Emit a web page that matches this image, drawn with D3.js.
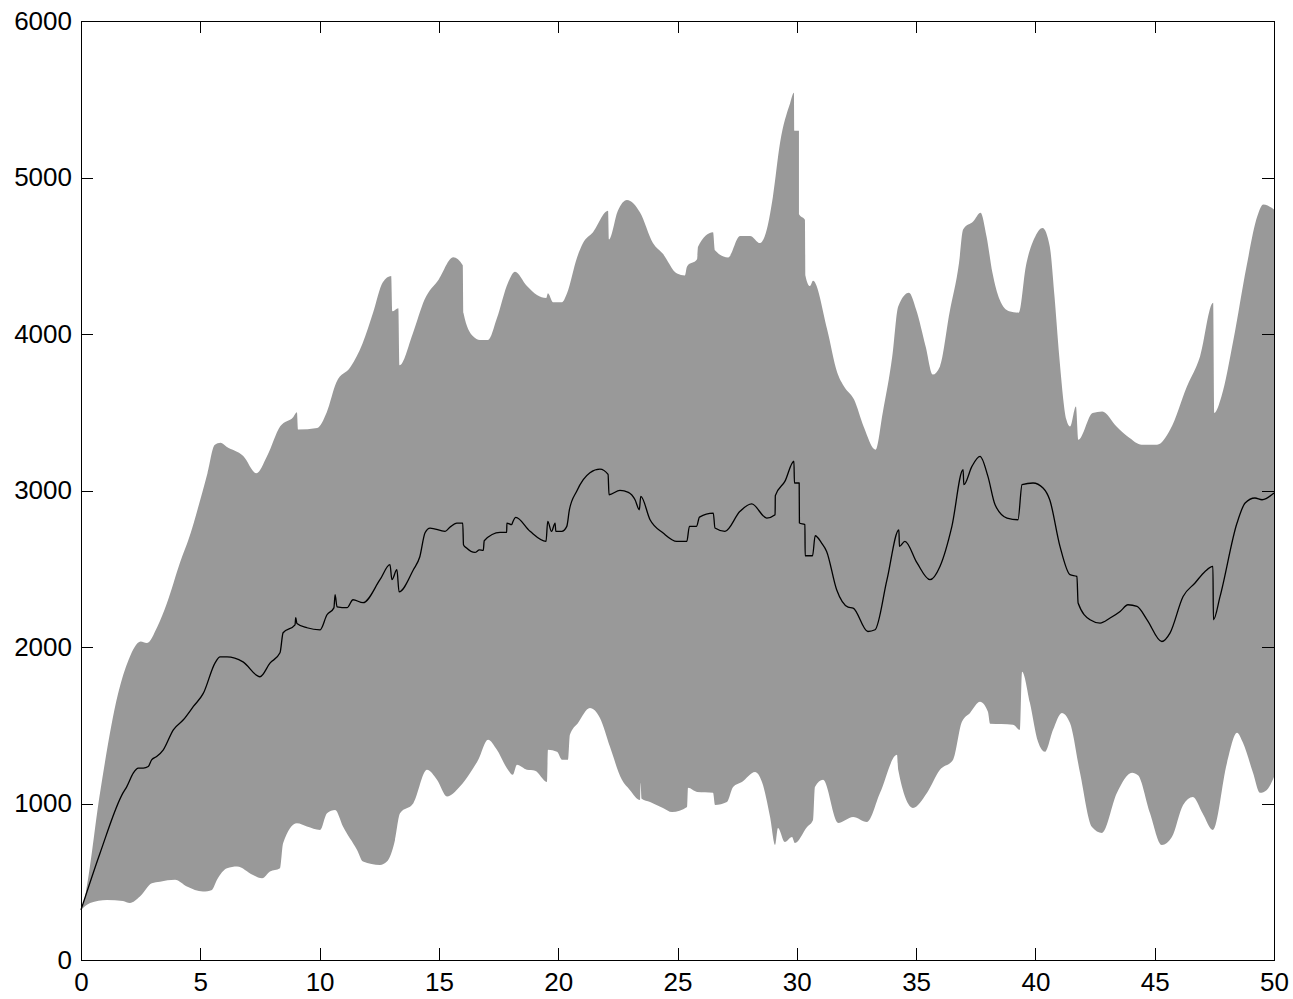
<!DOCTYPE html>
<html>
<head>
<meta charset="utf-8">
<script src="https://cdn.jsdelivr.net/npm/d3@7"></script>
<style>
  html, body { margin: 0; padding: 0; background: #fff; }
  svg { display: block; }
  .axis text { font-family: "Liberation Sans", Arial, Helvetica, sans-serif; font-size: 26px; fill: #000; }
  .axis path, .axis line { stroke: #000; stroke-width: 1px; shape-rendering: crispEdges; }
</style>
</head>
<body>
<svg id="chart" width="1293" height="999"></svg>
<script>
// ---- data (x, value) ----
const xTicks = [0, 5, 10, 15, 20, 25, 30, 35, 40, 45, 50];
const yTicks = [0, 1000, 2000, 3000, 4000, 5000, 6000];

const bandUpper = [[0,300],[0.2,430],[0.8,1070],[1.55,1700],[2.0,1920],[2.25,2000],[2.5,2035],[2.75,2025],[3.2,2130],[3.6,2280],[4.15,2540],[4.6,2730],[4.85,2860],[5.3,3110],[5.6,3290],[5.85,3305],[6.1,3280],[6.8,3220],[7.35,3110],[7.8,3220],[8.35,3410],[8.9,3470],[9.05,3500],[9.1,3390],[9.9,3400],[10.3,3500],[10.7,3690],[11.3,3790],[11.8,3940],[12.25,4140],[12.65,4330],[13.0,4370],[13.05,4145],[13.3,4165],[13.35,3800],[13.9,4000],[14.4,4220],[15.0,4350],[15.6,4490],[16.0,4440],[16.03,4134],[16.43,3985],[16.72,3962],[17.06,3962],[17.43,4100],[17.9,4329],[18.19,4398],[18.69,4306],[19.11,4249],[19.5,4230],[19.57,4260],[19.78,4203],[20.16,4203],[20.37,4260],[20.79,4489],[21.04,4581],[21.46,4650],[22.09,4787],[22.13,4604],[22.5,4787],[22.88,4856],[23.43,4776],[23.97,4581],[24.39,4512],[24.98,4386],[25.31,4374],[25.4,4432],[25.82,4477],[25.86,4558],[26.49,4650],[26.57,4535],[27.12,4489],[27.62,4627],[28.04,4627],[28.46,4581],[28.75,4673],[29.0,4879],[29.3,5223],[29.72,5475],[29.88,5541],[29.9,5299],[30.09,5299],[30.1,4764],[30.34,4730],[30.36,4374],[30.55,4306],[30.68,4340],[31.27,4031],[31.69,3756],[32.0,3660],[32.4,3581],[32.8,3409],[33.3,3261],[33.6,3496],[34.0,3856],[34.25,4176],[34.7,4263],[35.0,4156],[35.4,3920],[35.7,3741],[36.0,3793],[36.4,4136],[36.8,4456],[36.97,4668],[37.4,4720],[37.7,4775],[37.95,4625],[38.2,4391],[38.5,4220],[38.9,4145],[39.3,4136],[39.6,4433],[40.0,4625],[40.3,4678],[40.6,4561],[40.8,4241],[41.0,3857],[41.3,3452],[41.45,3409],[41.7,3537],[41.8,3324],[42.4,3495],[42.8,3505],[43.4,3409],[43.95,3335],[44.45,3292],[45.1,3292],[45.65,3389],[46.35,3665],[46.9,3857],[47.45,4200],[47.5,3496],[47.8,3602],[48.3,3964],[48.85,4433],[49.3,4752],[49.55,4828],[50,4796]];

const bandLower = [[0,320],[0.38,364],[1.09,384],[1.76,377],[2.05,364],[2.47,405],[2.97,490],[3.31,500],[3.94,512],[4.44,469],[5.11,437],[5.49,448],[5.7,512],[6.12,586],[6.54,597],[7.21,543],[7.59,522],[7.92,565],[8.34,586],[8.47,746],[9.05,874],[9.47,853],[10.02,831],[10.31,938],[10.65,959],[10.98,853],[11.57,703],[11.82,629],[12.53,607],[12.82,629],[13.16,767],[13.37,938],[13.93,1002],[14.5,1215],[14.92,1151],[15.34,1044],[15.88,1108],[16.3,1194],[16.65,1279],[17.06,1407],[17.43,1343],[17.85,1226],[18.1,1183],[18.27,1247],[18.69,1215],[19.03,1209],[19.53,1138],[19.57,1343],[19.95,1330],[20.16,1279],[20.41,1279],[20.49,1439],[20.83,1515],[21.33,1611],[21.75,1547],[22.17,1362],[22.67,1151],[23.0,1087],[23.43,1023],[23.45,1132],[23.5,1030],[23.85,1010],[24.39,972],[24.77,946],[25.4,978],[25.44,1100],[25.82,1074],[26.49,1068],[26.57,991],[27.07,1010],[27.33,1106],[27.7,1138],[28.25,1202],[28.54,1138],[28.88,914],[29.09,735],[29.21,844],[29.5,754],[29.8,786],[29.92,748],[30.43,850],[30.68,895],[30.76,1106],[31.1,1151],[31.73,876],[32.36,914],[32.94,882],[33.49,1068],[34.2,1311],[34.25,1215],[34.87,972],[35.46,1068],[36.0,1215],[36.55,1279],[36.92,1522],[37.26,1579],[37.68,1650],[38.01,1586],[38.1,1509],[39.06,1503],[39.35,1471],[39.44,1842],[39.77,1643],[40.11,1394],[40.4,1330],[40.74,1471],[41.11,1579],[41.45,1515],[41.87,1196],[42.37,850],[42.79,812],[43.42,1068],[44.05,1196],[44.3,1180],[44.8,940],[45.3,735],[45.72,786],[46.19,991],[46.6,1042],[47.0,940],[47.44,831],[48.03,1260],[48.45,1452],[48.7,1388],[49.12,1196],[49.41,1068],[49.7,1087],[50,1170]];

const meanSeries = [[0,320],[0.8,684],[1.76,1068],[1.92,1108],[2.19,1194],[2.4,1226],[2.61,1226],[2.82,1236],[2.96,1279],[3.17,1300],[3.45,1343],[3.87,1471],[4.29,1535],[4.71,1620],[5.13,1705],[5.62,1899],[5.83,1937],[6.12,1937],[6.79,1905],[7.5,1810],[7.92,1897],[8.34,1963],[8.47,2091],[8.97,2142],[9.0,2187],[9.05,2150],[9.47,2123],[10.02,2110],[10.31,2206],[10.6,2250],[10.65,2334],[10.73,2257],[11.15,2251],[11.4,2302],[11.82,2283],[12.53,2430],[12.95,2526],[13.03,2430],[13.24,2494],[13.33,2353],[13.93,2494],[14.2,2577],[14.42,2730],[14.63,2760],[15.26,2739],[15.47,2767],[15.75,2792],[16.0,2792],[16.03,2654],[16.16,2632],[16.51,2604],[16.7,2621],[16.86,2617],[16.9,2679],[17.56,2732],[17.84,2732],[17.85,2792],[18.05,2782],[18.1,2800],[18.22,2828],[18.82,2739],[19.49,2675],[19.56,2803],[19.72,2739],[19.87,2792],[19.9,2739],[20.15,2739],[20.36,2771],[20.47,2877],[20.77,2994],[21.05,3069],[21.33,3114],[21.75,3137],[22.09,3103],[22.13,2973],[22.59,3001],[22.94,2988],[23.22,2941],[23.4,2877],[23.46,2962],[23.85,2813],[24.4,2728],[24.97,2675],[25.39,2675],[25.5,2771],[25.8,2771],[25.92,2830],[26.5,2856],[26.57,2760],[26.99,2739],[27.62,2867],[28.11,2914],[28.74,2824],[29.09,2845],[29.1,2967],[29.5,3058],[29.88,3187],[29.9,3048],[30.1,3048],[30.11,2792],[30.34,2782],[30.35,2583],[30.66,2583],[30.77,2711],[31.04,2664],[31.25,2611],[31.67,2366],[32.15,2255],[32.36,2249],[32.98,2099],[33.28,2110],[33.78,2430],[34.28,2749],[34.3,2643],[34.53,2675],[35.04,2537],[35.58,2430],[36.0,2515],[36.5,2771],[36.97,3133],[37.0,3037],[37.34,3154],[37.68,3218],[38.01,3090],[38.31,2909],[38.81,2824],[39.27,2813],[39.44,3037],[39.9,3048],[40.32,3016],[40.6,2941],[41.03,2643],[41.45,2462],[41.74,2451],[41.79,2281],[42.29,2174],[42.71,2153],[43.13,2185],[43.55,2227],[43.88,2270],[44.26,2259],[44.68,2174],[45.3,2035],[45.64,2089],[46.19,2323],[46.69,2409],[47.11,2483],[47.44,2515],[47.46,2174],[47.74,2323],[48.45,2792],[48.79,2920],[49.2,2952],[49.5,2941],[50,2984]];

// ---- chart ----
const L = 81, R = 1274, T = 21, B = 960;
const svg = d3.select("#chart");
const x = d3.scaleLinear().domain([0, 50]).range([L, R]);
const y = d3.scaleLinear().domain([0, 6000]).range([B, T]);

const smooth = d3.line().x(d => x(d[0])).y(d => y(d[1])).curve(d3.curveMonotoneX);

// shaded band: upper edge forward, lower edge reversed, joined into one closed shape
const upperPath = smooth(bandUpper);
const lowerPath = smooth(bandLower.slice().reverse()).replace(/^M/, "L");
svg.append("path")
  .attr("d", upperPath + lowerPath + "Z")
  .attr("fill", "#999999")
  .attr("stroke", "none");

svg.append("path")
  .attr("d", smooth(meanSeries))
  .attr("fill", "none")
  .attr("stroke", "#000")
  .attr("stroke-width", 1.3)
  .attr("stroke-linejoin", "round");

// axes (ticks inward, MATLAB style box)
const TS = 12;
svg.append("g").attr("class", "axis")
  .attr("transform", `translate(0,${B})`)
  .call(d3.axisBottom(x).tickValues(xTicks).tickSize(-TS).tickPadding(13).tickSizeOuter(0).tickFormat(d3.format("d")));
svg.append("g").attr("class", "axis")
  .attr("transform", `translate(0,${T})`)
  .call(d3.axisTop(x).tickValues(xTicks).tickSize(-TS).tickSizeOuter(0).tickFormat(""));
svg.append("g").attr("class", "axis")
  .attr("transform", `translate(${L},0)`)
  .call(d3.axisLeft(y).tickValues(yTicks).tickSize(-TS).tickPadding(9).tickSizeOuter(0).tickFormat(d3.format("d")));
svg.append("g").attr("class", "axis")
  .attr("transform", `translate(${R},0)`)
  .call(d3.axisRight(y).tickValues(yTicks).tickSize(-TS).tickSizeOuter(0).tickFormat(""));
</script>
</body>
</html>
